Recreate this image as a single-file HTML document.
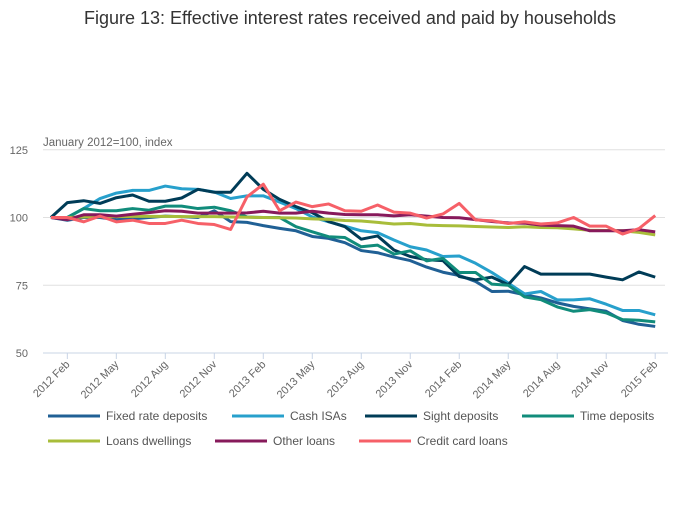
<!DOCTYPE html>
<html><head><meta charset="utf-8">
<style>
body{margin:0;background:#fff;font-family:"Liberation Sans",sans-serif;}
svg text{font-family:"Liberation Sans",sans-serif;}
</style></head>
<body>
<svg id="chart" width="700" height="502" xmlns="http://www.w3.org/2000/svg">
<text x="350" y="24" text-anchor="middle" font-size="18" fill="#333">Figure 13: Effective interest rates received and paid by households</text>
<text x="43" y="146" font-size="11.5" fill="#666">January 2012=100, index</text>
<g id="grid"></g><g id="xaxis"></g><g id="series"></g><g id="legend"></g>
</svg>
<script>
const yTicks=[50,75,100,125];
const xTickLabels=["2012 Feb","2012 May","2012 Aug","2012 Nov","2013 Feb","2013 May","2013 Aug","2013 Nov","2014 Feb","2014 May","2014 Aug","2014 Nov","2015 Feb"];
const seriesNames=["Fixed rate deposits","Cash ISAs","Sight deposits","Time deposits","Loans dwellings","Other loans","Credit card loans"];
const seriesColors=["#206095","#27a0cc","#003c57","#118c7b","#a8bd3a","#871a5b","#f66068"];
const fixedRate=[100,99,100,100,99.2,99.5,100,100.5,100.3,100,102.5,98.5,98.2,97,96,95.1,93,92.3,90.7,87.8,87,85.4,84.1,81.7,79.8,78.6,76.4,72.7,72.8,71.5,70.3,68.5,67.2,66.3,65.4,62,60.6,59.8];
const cashISAs=[100,100,103.3,107,109,110,110,111.6,110.6,110.4,109.4,107,108,108,105.7,103.3,100.2,98.4,96.8,95.1,94.4,91.7,89.2,88,85.6,85.8,83.1,79.7,75.8,71.8,72.7,69.6,69.6,70,68,65.7,65.7,64.1];
const sight=[100,105.5,106.2,105.2,107.3,108.3,106,106,107.2,110.4,109.3,109.3,116.3,110.4,106.7,104,101.8,98.5,96.6,92,93.2,88,85.6,84.4,84.1,78.2,77,78,75.2,81.9,79.1,79.1,79.1,79.1,78,77,79.9,78];
const timeDep=[100,100,103.3,102.5,102.5,103.3,102.7,104.2,104.2,103.3,103.8,102.5,100.2,100,100,96.6,94.7,92.9,92.6,89.2,89.8,86.5,87.7,84,84.9,79.7,79.7,75.4,75,70.7,69.7,67,65.4,66,64.8,62.3,62.1,61.5];
const loansDwellings=[100,100,100.2,100.3,100.3,100.4,100.4,100.4,100.3,100.3,100.3,100.2,100.1,100,99.9,99.8,99.5,99.3,98.9,98.7,98.2,97.6,97.8,97.2,97,96.9,96.7,96.5,96.3,96.6,96.3,96.2,95.8,95.3,95.2,95.1,94.5,93.6];
const otherLoans=[100,99.2,101,101,100.5,101.2,101.8,102.5,102.3,101.6,101.6,101.6,101.7,102.3,101.6,101.6,102.3,101.6,101.1,101,101,100.6,101,100.5,100,99.9,99.2,98.5,98,97.9,97.2,97,96.8,95.1,95.1,95.1,95.5,94.7];
const creditCard=[100,100,98.4,100.5,98.4,99,97.8,97.8,99,97.8,97.4,95.6,107.6,112.3,102.5,105.7,104,105,102.5,102.3,104.6,102,101.6,99.8,101.3,105.2,99.1,98.8,97.8,98.4,97.6,98,100,96.8,96.8,93.9,95.9,100.7];
const allSeries=[fixedRate,cashISAs,sight,timeDep,loansDwellings,otherLoans,creditCard];

const NS="http://www.w3.org/2000/svg";
const xS=i=>51+i*16.33;
const yS=v=>353-(v-50)*2.71;
function mk(tag,attrs,parent){const e=document.createElementNS(NS,tag);for(const k in attrs)e.setAttribute(k,attrs[k]);parent.appendChild(e);return e;}
const grid=document.getElementById('grid');
yTicks.forEach(t=>{
  if(t>50){const l=mk('line',{x1:43,x2:665,y1:yS(t),y2:yS(t),stroke:'#e0e0e0','stroke-width':1},grid);
  
  }
  const tx=mk('text',{x:28,y:yS(t)+4,'text-anchor':'end','font-size':11,fill:'#666'},grid);
  tx.textContent=t;
  
  
});
const xa=document.getElementById('xaxis');
const ax=mk('line',{x1:43,x2:668,y1:353,y2:353,stroke:'#c8d4e6','stroke-width':1},xa);


xTickLabels.forEach((lab,k)=>{
  const x=xS(1+3*k);
  const tk=mk('line',{x1:x,x2:x,y1:353,y2:359,stroke:'#c8d4e6'},xa);
  
  
  const t=mk('text',{x:x+3,y:365,'text-anchor':'end','font-size':11,fill:'#666',transform:`rotate(-45 ${x+3} 365)`},xa);
  t.textContent=lab;
  
  
});
const sg=document.getElementById('series');
allSeries.forEach((s,j)=>{
  const p=mk('polyline',{points:s.map((v,i)=>xS(i)+','+yS(v)).join(' '),fill:'none',stroke:seriesColors[j],'stroke-width':3,'stroke-linejoin':'round'},sg);
  
  
});
const lg=document.getElementById('legend');
const legPos=[[48,416],[232,416],[365,416],[522,416],[48,441],[215,441],[359,441]];
seriesNames.forEach((n,j)=>{
  const [x,y]=legPos[j];
  const g=mk('g',{},lg);
  
  
  mk('line',{x1:x,x2:x+52,y1:y,y2:y,stroke:seriesColors[j],'stroke-width':3},g);
  const t=mk('text',{x:x+58,y:y+4,'font-size':12,fill:'#555'},g);
  t.textContent=n;
});
</script>
</body></html>
